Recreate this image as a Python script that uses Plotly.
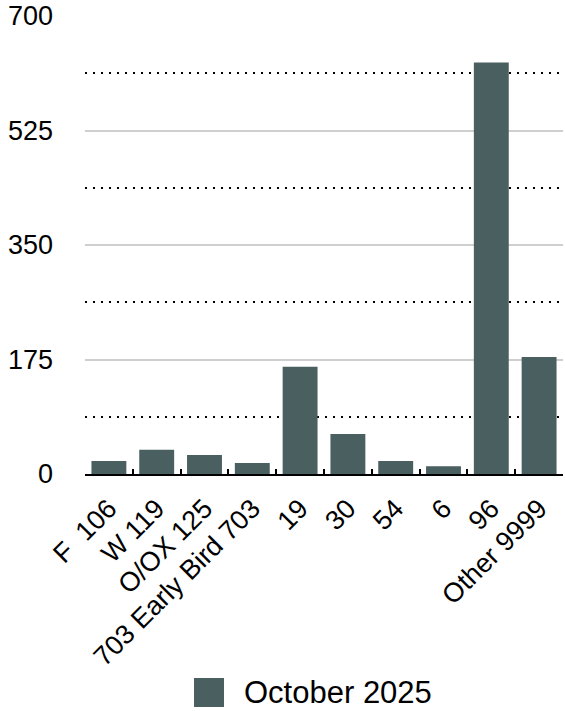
import plotly.graph_objects as go

categories = ["F  106", "W 119", "O/OX 125", "703 Early Bird 703", "19", "30", "54", "6", "96", "Other 9999"]
values = [20, 37, 29, 17, 164, 61, 20, 12, 629, 179]
series_name = "October 2025"
y_ticks = [0, 175, 350, 525, 700]

BAR = "#4a5f60"
FONT = "Liberation Sans, Arial, Helvetica, sans-serif"

W, H = 565, 711
L, R, T, B = 85, 2, 16, 237
PW, PH = W - L - R, H - T - B

fig = go.Figure()
fig.add_trace(go.Bar(x=categories, y=values, marker=dict(color=BAR, line=dict(width=0)),
                     name=series_name, showlegend=False))

fig.update_layout(
    width=W, height=H,
    margin=dict(l=L, r=R, t=T, b=B, pad=0),
    plot_bgcolor="white", paper_bgcolor="white",
    bargap=0.27,
    font=dict(family=FONT, color="black"),
    showlegend=False,
)
fig.update_xaxes(
    type="category", tickangle=-45, tickfont=dict(size=27, color="black"),
    showline=True, linecolor="black", linewidth=2,
    ticks="inside", tickson="boundaries", ticklen=5, tickwidth=2, tickcolor="black",
    showgrid=False, ticklabelstandoff=6,
)
fig.update_yaxes(
    range=[0, 700], tickvals=y_ticks, ticktext=[str(v) for v in y_ticks],
    tickfont=dict(size=27, color="black"),
    showgrid=True, gridcolor="#cfcfcf", gridwidth=1.5,
    showline=False, zeroline=False, ticks="", ticklabelstandoff=31,
    minor=dict(tickvals=[87.5, 262.5, 437.5, 612.5], showgrid=True, gridcolor="black",
               gridwidth=2, griddash="2px,6px"),
)

def px_x(px):
    return (px - L) / PW

def px_y(py):
    return (H - B - py) / PH

fig.add_shape(type="rect", xref="paper", yref="paper",
              x0=px_x(194), x1=px_x(224), y0=px_y(707), y1=px_y(678),
              fillcolor=BAR, line=dict(width=0))
fig.add_annotation(xref="paper", yref="paper", x=px_x(242), y=px_y(692),
                   text=series_name, showarrow=False, xanchor="left", yanchor="middle",
                   font=dict(size=31, color="black", family=FONT))

fig.write_html("out.html")
